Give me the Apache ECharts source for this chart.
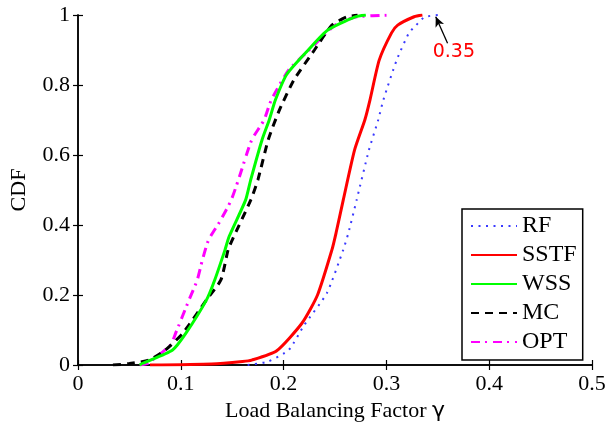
<!DOCTYPE html>
<html>
<head>
<meta charset="utf-8">
<script src="https://cdn.jsdelivr.net/npm/echarts@6/dist/echarts.min.js"></script>
<style>html,body{margin:0;padding:0;background:#fff}#c{width:609px;height:428px}</style>
</head>
<body>
<div id="c"></div>
<script>
var seriesNames = ['RF', 'SSTF', 'WSS', 'MC', 'OPT'];
var xTicks = [0, 0.1, 0.2, 0.3, 0.4, 0.5];
var yTicks = [0, 0.2, 0.4, 0.6, 0.8, 1];

var rfX = [0.165, 0.185, 0.205, 0.220, 0.242, 0.258, 0.263, 0.271, 0.283, 0.292, 0.297, 0.310, 0.322, 0.329, 0.337, 0.350];
var rfY = [0, 0.01, 0.043, 0.114, 0.205, 0.329, 0.377, 0.471, 0.614, 0.700, 0.757, 0.871, 0.949, 0.971, 0.994, 1];

var sstfX = [0.070, 0.130, 0.160, 0.169, 0.193, 0.218, 0.233, 0.247, 0.251, 0.258, 0.269, 0.279, 0.284, 0.293, 0.305, 0.311, 0.327, 0.335];
var sstfY = [0, 0.003, 0.010, 0.014, 0.040, 0.120, 0.200, 0.329, 0.377, 0.471, 0.614, 0.700, 0.757, 0.871, 0.949, 0.971, 0.995, 1];

var wssX = [0.060, 0.063, 0.092, 0.105, 0.125, 0.133, 0.143, 0.147, 0.163, 0.168, 0.179, 0.186, 0.192, 0.203, 0.224, 0.243, 0.269, 0.280];
var wssY = [0, 0.005, 0.043, 0.091, 0.186, 0.243, 0.329, 0.367, 0.471, 0.529, 0.643, 0.700, 0.757, 0.830, 0.900, 0.957, 0.994, 1];

var mcX = [0.034, 0.050, 0.069, 0.085, 0.102, 0.125, 0.139, 0.146, 0.150, 0.168, 0.175, 0.185, 0.196, 0.210, 0.230, 0.247, 0.261, 0.272];
var mcY = [0, 0.004, 0.014, 0.043, 0.091, 0.186, 0.243, 0.329, 0.357, 0.471, 0.529, 0.643, 0.729, 0.814, 0.900, 0.971, 0.994, 1];

var optX = [0.060, 0.068, 0.090, 0.095, 0.108, 0.116, 0.121, 0.127, 0.138, 0.149, 0.156, 0.169, 0.181, 0.188, 0.205, 0.225, 0.250, 0.270, 0.305];
var optY = [0, 0.005, 0.057, 0.091, 0.186, 0.243, 0.300, 0.357, 0.410, 0.471, 0.529, 0.643, 0.700, 0.757, 0.843, 0.900, 0.971, 0.994, 1];

var annotText = '0.35';
var annotTip = [0.348, 0.995];
var annotTail = [0.3595, 0.919];
var annotLabelPos = [0.3656, 0.893];

function pairs(xs, ys) { return xs.map(function (x, i) { return [x, ys[i]]; }); }

var serif = '"Liberation Serif", "DejaVu Serif", serif';
var sans = '"DejaVu Sans", sans-serif';

var styles = [
  { color: '#3a3aff', width: 2, type: [2, 5.5] },
  { color: '#ff0000', width: 3, type: 'solid' },
  { color: '#00ff00', width: 3, type: 'solid' },
  { color: '#000000', width: 3, type: [8, 6] },
  { color: '#ff00ff', width: 3, type: [9, 5, 2, 6] }
];
var datasets = [pairs(rfX, rfY), pairs(sstfX, sstfY), pairs(wssX, wssY), pairs(mcX, mcY), pairs(optX, optY)];

var series = seriesNames.map(function (n, i) {
  return {
    name: n, type: 'line', data: datasets[i], showSymbol: false, symbol: 'none',
    smooth: 0.2,
    lineStyle: { color: styles[i].color, width: styles[i].width, type: styles[i].type },
    itemStyle: { color: styles[i].color },
    z: 10 - i, animation: false
  };
});
series[0].markLine = {
  silent: true, symbol: ['none', 'arrow'], symbolSize: [7, 10],
  lineStyle: { color: '#000', width: 1.3, type: 'solid' },
  label: { show: false },
  data: [[{ coord: annotTail }, { coord: annotTip }]],
  animation: false
};
series[0].markPoint = {
  silent: true, symbol: 'circle', symbolSize: 0,
  label: { show: true, position: 'inside', formatter: annotText, color: '#ff0000', fontSize: 19, fontFamily: sans },
  data: [{ coord: annotLabelPos }],
  animation: false
};

var axisLineStyle = { lineStyle: { color: '#000', width: 1.5 } };

var chart = echarts.init(document.getElementById('c'));
chart.setOption({
  backgroundColor: '#fff',
  animation: false,
  grid: { left: 75, right: 17, top: 15, bottom: 63 },
  legend: {
    show: true,
    data: seriesNames, orient: 'vertical', left: 462, top: 209,
    itemWidth: 46, itemHeight: 14, itemGap: 5,
    padding: [5, 6, 6, 8],
    borderColor: '#000', borderWidth: 1.5, backgroundColor: '#fff',
    itemStyle: { opacity: 0 },
    textStyle: { fontFamily: serif, fontSize: 24, color: '#000', lineHeight: 24 },
    selectedMode: false
  },
  xAxis: [{
    type: 'value', min: 0, max: 0.5, interval: 0.1,
    name: 'Load Balancing Factor {g|γ}', nameLocation: 'middle', nameGap: 33,
    nameTextStyle: { fontFamily: serif, fontSize: 22, color: '#000', rich: { g: { fontFamily: sans, fontSize: 22, color: '#000' } } },
    axisLine: axisLineStyle, axisTick: { inside: true, length: 5, lineStyle: { color: '#000', width: 1.2 } },
    axisLabel: { fontFamily: serif, fontSize: 22, color: '#000', margin: 8 },
    splitLine: { show: false }
  }, {
    type: 'value', min: 0, max: 0.5, interval: 0.1, position: 'top',
    axisLine: axisLineStyle, axisTick: { inside: true, length: 5, lineStyle: { color: '#000', width: 1.2 } },
    axisLabel: { show: false }, splitLine: { show: false }
  }],
  yAxis: [{
    type: 'value', min: 0, max: 1, interval: 0.2,
    name: 'CDF', nameLocation: 'middle', nameGap: 48, nameRotate: 90,
    nameTextStyle: { fontFamily: serif, fontSize: 22, color: '#000' },
    axisLine: axisLineStyle, axisTick: { inside: true, length: 5, lineStyle: { color: '#000', width: 1.2 } },
    axisLabel: { fontFamily: serif, fontSize: 22, color: '#000', margin: 8 },
    splitLine: { show: false }
  }, {
    type: 'value', min: 0, max: 1, interval: 0.2, position: 'right',
    axisLine: axisLineStyle, axisTick: { inside: true, length: 5, lineStyle: { color: '#000', width: 1.2 } },
    axisLabel: { show: false }, splitLine: { show: false }
  }],
  series: series
});
</script>
</body>
</html>
